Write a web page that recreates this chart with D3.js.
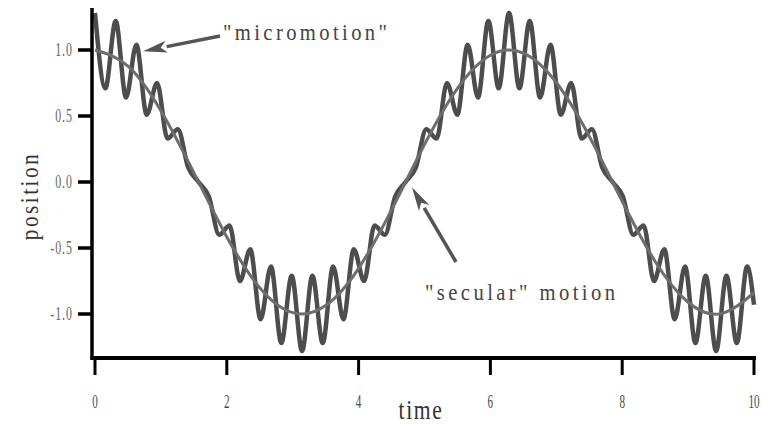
<!DOCTYPE html>
<html><head><meta charset="utf-8">
<script src="https://cdn.jsdelivr.net/npm/d3@7"></script>
<style>body{margin:0;background:#fff}svg{display:block}</style>
</head><body>
<script>
// Micromotion trace: extrema, at times k*pi/20
const microTimes = [0,0.157,0.314,0.471,0.628,0.785,0.942,1.100,1.257,1.414,1.571,1.728,1.885,2.042,2.199,2.356,2.513,2.670,2.827,2.985,3.142,3.299,3.456,3.613,3.770,3.927,4.084,4.241,4.398,4.555,4.712,4.869,5.027,5.184,5.341,5.498,5.655,5.812,5.969,6.126,6.283,6.440,6.597,6.754,6.912,7.069,7.226,7.383,7.540,7.697,7.854,8.011,8.168,8.325,8.482,8.639,8.796,8.954,9.111,9.268,9.425,9.582,9.739,9.896,10];
const microValues = [1.28,0.71,1.22,0.64,1.04,0.51,0.75,0.33,0.40,0.11,0,-0.11,-0.40,-0.33,-0.75,-0.51,-1.04,-0.64,-1.22,-0.71,-1.28,-0.71,-1.22,-0.64,-1.04,-0.51,-0.75,-0.33,-0.40,-0.11,0,0.11,0.40,0.33,0.75,0.51,1.04,0.64,1.22,0.71,1.28,0.71,1.22,0.64,1.04,0.51,0.75,0.33,0.40,0.11,0,-0.11,-0.40,-0.33,-0.75,-0.51,-1.04,-0.64,-1.22,-0.71,-1.28,-0.71,-1.22,-0.64,-0.93];
// Secular motion (smooth curve)
const secularTimes = [0,0.5,1,1.5,2,2.5,3,3.5,4,4.5,5,5.5,6,6.5,7,7.5,8,8.5,9,9.5,10];
const secularValues = [1,0.878,0.540,0.071,-0.416,-0.801,-0.990,-0.936,-0.654,-0.211,0.284,0.709,0.960,0.977,0.754,0.347,-0.146,-0.602,-0.911,-0.997,-0.839];
const xTicks = [0,2,4,6,8,10];
const yTicks = [1.0,0.5,0.0,-0.5,-1.0];
const yTickLabels = ["1.0","0.5","0.0","-0.5","-1.0"];

const W=763,H=424;
const svg=d3.select("body").append("svg").attr("width",W).attr("height",H);
const x=d3.scaleLinear().domain([0,10]).range([95,754]);
const y=d3.scaleLinear().domain([-1,1]).range([314,50]);
const axisX=92, axisBottom=358, axisTop=8;
const serif="'Liberation Serif','DejaVu Serif',serif";

const micro=microTimes.map((t,i)=>[t,microValues[i]]);
const sec=secularTimes.map((t,i)=>[t,secularValues[i]]);

svg.append("path").datum(micro)
  .attr("d",d3.line().x(d=>x(d[0])).y(d=>y(d[1])).curve(d3.curveMonotoneX))
  .attr("fill","none").attr("stroke","#4d4d4d").attr("stroke-width",4.5).attr("stroke-linejoin","round");
svg.append("path").datum(sec)
  .attr("d",d3.line().x(d=>x(d[0])).y(d=>y(d[1])).curve(d3.curveNatural))
  .attr("fill","none").attr("stroke","#6e6e6e").attr("stroke-width",3);

// axes
const ax=svg.append("g").attr("stroke","#000");
ax.append("line").attr("x1",axisX).attr("x2",axisX).attr("y1",axisTop).attr("y2",axisBottom+2).attr("stroke-width",3.5);
ax.append("line").attr("x1",axisX-1.5).attr("x2",x(10)+2).attr("y1",axisBottom).attr("y2",axisBottom).attr("stroke-width",4);
xTicks.forEach(t=>{
  ax.append("line").attr("x1",x(t)).attr("x2",x(t)).attr("y1",axisBottom).attr("y2",axisBottom+17).attr("stroke-width",3);
});
yTicks.forEach(v=>{
  ax.append("line").attr("x1",axisX-14).attr("x2",axisX).attr("y1",y(v)).attr("y2",y(v)).attr("stroke-width",3.5);
});

function ctext(px,py,str,opts){
  const o=Object.assign({size:18,sx:0.7,anchor:"start",fill:"#555",rot:0,ls:0,len:null},opts);
  const t=svg.append("text")
    .attr("transform",`translate(${px},${py}) rotate(${o.rot}) scale(${o.sx},1)`)
    .attr("text-anchor",o.anchor).attr("font-family",serif).attr("font-size",o.size)
    .attr("fill",o.fill).attr("letter-spacing",o.ls).text(str);
  if(o.len){t.attr("textLength",o.len/o.sx).attr("lengthAdjust","spacing");}
  return t;
}
xTicks.forEach(d=>ctext(x(d),408,String(d),{size:18,sx:0.62,anchor:"middle",fill:"#4a4a4a"}));
yTicks.forEach((d,i)=>ctext(73,y(d)+6,yTickLabels[i],{size:18,sx:0.66,anchor:"end",fill:"#666",ls:1.5}));

ctext(421,419,"time",{size:27,sx:0.8,anchor:"middle",fill:"#333",ls:2});
ctext(38,196,"position",{size:26,sx:0.82,anchor:"middle",fill:"#333",rot:-90,ls:3});
ctext(223,40,"\"micromotion\"",{size:24,sx:0.86,fill:"#444",len:164});
ctext(425,300,"\"secular\" motion",{size:24,sx:0.86,fill:"#444",len:190});

function arrow(x1,y1,x2,y2){
  const g=svg.append("g").attr("fill","#555").attr("stroke","#555");
  const ang=Math.atan2(y2-y1,x2-x1), L=24, Wd=6;
  const bx=x2-L*Math.cos(ang), by=y2-L*Math.sin(ang);
  g.append("line").attr("x1",x1).attr("y1",y1).attr("x2",bx).attr("y2",by).attr("stroke-width",3.5);
  const px=-Math.sin(ang)*Wd, py=Math.cos(ang)*Wd;
  g.append("path").attr("stroke","none")
   .attr("d",`M${x2},${y2}L${bx+px},${by+py}L${bx+(x2-bx)*0.25},${by+(y2-by)*0.25}L${bx-px},${by-py}Z`);
}
arrow(220,36,x(0.73),y(0.99));
arrow(456,262,x(4.81),y(-0.04));
</script>
</body></html>
